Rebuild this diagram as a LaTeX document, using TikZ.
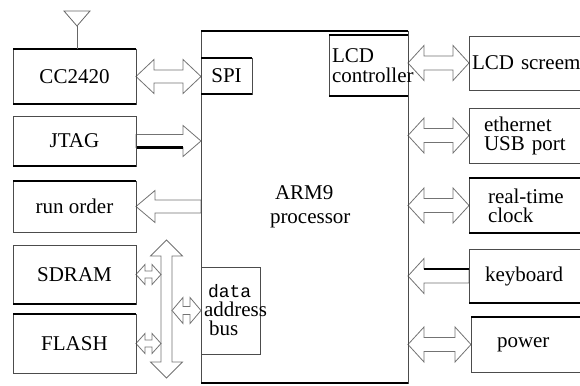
\documentclass[tikz,border=0pt]{standalone}
\usepackage{fontspec}
\setmainfont{Liberation Serif}
\setmonofont{Liberation Mono}
\usepackage{tikz}
\usetikzlibrary{positioning, calc, backgrounds}

% hollow block arrows: #1 and #2 are the two ends, #3 head length,
% #4 half width of the head, #5 half width of the shaft
\newcommand{\dblarrow}[5]{%
  \draw[blockarrow] let \p1=(#1), \p2=(#2), \n1={sign(\x2-\x1)} in
    (\x1,\y1) -- (\x1+\n1*#3,\y1+#4) -- (\x1+\n1*#3,\y1+#5) -- (\x2-\n1*#3,\y1+#5)
    -- (\x2-\n1*#3,\y1+#4) -- (\x2,\y1) -- (\x2-\n1*#3,\y1-#4) -- (\x2-\n1*#3,\y1-#5)
    -- (\x1+\n1*#3,\y1-#5) -- (\x1+\n1*#3,\y1-#4) -- cycle;}
% one head only, at #1
\newcommand{\onearrow}[5]{%
  \draw[blockarrow] let \p1=(#1), \p2=(#2), \n1={sign(\x2-\x1)} in
    (\x1,\y1) -- (\x1+\n1*#3,\y1+#4) -- (\x1+\n1*#3,\y1+#5) -- (\x2,\y1+#5)
    -- (\x2,\y1-#5) -- (\x1+\n1*#3,\y1-#5) -- (\x1+\n1*#3,\y1-#4) -- cycle;}
% vertical one, for the bus
\newcommand{\busarrow}[5]{%
  \draw[blockarrow] let \p1=(#1), \p2=(#2), \n1={sign(\y2-\y1)} in
    (\x1,\y1) -- (\x1+#4,\y1+\n1*#3) -- (\x1+#5,\y1+\n1*#3) -- (\x1+#5,\y2-\n1*#3)
    -- (\x1+#4,\y2-\n1*#3) -- (\x1,\y2) -- (\x1-#4,\y2-\n1*#3) -- (\x1-#5,\y2-\n1*#3)
    -- (\x1-#5,\y1+\n1*#3) -- (\x1-#4,\y1+\n1*#3) -- cycle;}

\begin{document}
\begin{tikzpicture}[
  x=1pt, y=-1pt,
  box/.style={draw=black!70, line width=0.8pt, rectangle, inner sep=0pt, outer sep=0pt, font=\fontsize{21}{19}\selectfont},
  lbox/.style={box, minimum width=123pt},
  rbox/.style={box, minimum width=126pt, align=left},
  heavy/.style={line width=2.6pt, black},
  blockarrow/.style={draw=black!55, line width=0.8pt, fill=white, line join=miter},
  antenna/.style={draw=black!60, line width=0.8pt}
]
\useasboundingbox (0,0) rectangle (580,385);
\clip (0,0) rectangle (580,385);

% left column
\node[lbox, minimum height=55pt, anchor=north west] (cc) at (13,49) {CC2420};
\node[lbox, minimum height=50pt, below=12pt of cc]    (jtag)  {JTAG};
\node[lbox, minimum height=51pt, below=15pt of jtag]  (run)   {run order};
\node[lbox, minimum height=59pt, below=13pt of run]   (sdram) {SDRAM};
\node[lbox, minimum height=59pt, below=10pt of sdram] (flash) {FLASH};

% processor and its parts
\node[box, minimum width=207pt, minimum height=352pt, anchor=north west, align=left,
      text width=69pt, font=\fontsize{21}{24}\selectfont] (arm) at (201,31) {\hspace*{5pt}ARM9\\processor};
\node[box, minimum width=51pt, minimum height=36pt, below right=27pt and 0pt of arm.north west] (spi) {SPI};
\node[box, minimum width=79pt, minimum height=61pt, align=left, inner xsep=3pt, text width=73pt,
      font=\fontsize{21}{20}\selectfont, below left=4pt and 0pt of arm.north east] (lcdc) {LCD\\controller};
\node[box, minimum width=59pt, minimum height=87pt, align=left, inner xsep=3pt, text width=53pt,
      above right=29pt and 0pt of arm.south west] (dab)
      {\hspace*{4pt}{\ttfamily\fontsize{18}{19}\selectfont data}\\address\\\hspace*{5pt}bus};

% right column
\node[rbox, minimum height=54pt, inner xsep=3pt, text width=120pt, anchor=north west] (lcd) at (469,36) {LCD screem};
\node[rbox, minimum height=55pt, inner xsep=15pt, text width=96pt, below=18pt of lcd] (eth) {ethernet\\USB port};
\node[rbox, minimum height=55pt, inner xsep=19pt, text width=88pt, below=15pt of eth] (rtc) {real-time\\clock};
\node[rbox, minimum height=54pt, inner xsep=16pt, text width=94pt, below=16pt of rtc] (kbd) {keyboard};
\node[rbox, minimum height=55pt, inner xsep=25pt, text width=74pt, below=14pt of kbd, xshift=2pt] (pwr) {power};

% heavy edges
\draw[line width=1.5pt] (arm.north west) -- (arm.north east);
\foreach \bx/\sd in {cc/north, cc/south, jtag/south, run/north, sdram/south, flash/north,
                     spi/north, spi/south, arm/south, lcdc/north, lcdc/south,
                     rtc/north, rtc/south, kbd/south, pwr/north}
  \draw[heavy] (\bx.\sd -| \bx.west) -- (\bx.\sd -| \bx.east);

% antenna
\coordinate (ant) at (77,26);
\draw[antenna] (ant) -- ++(-13,-15) -- ++(26,0) -- cycle;
\draw[antenna] (ant) -- (ant |- cc.north);

% bus
\coordinate (bustop) at (166.5,240);
\coordinate (busbot) at (166.5,378);
\coordinate (busl) at (161,0);
\coordinate (busr) at (172,0);

\begin{scope}[on background layer]
\dblarrow{cc.east}{spi.west}{18pt}{17pt}{6.5pt}
\onearrow{arm.west |- jtag.east}{jtag.east}{18pt}{15.5pt}{6.5pt}
\onearrow{run.east}{arm.west |- run.east}{19pt}{16pt}{6.5pt}
\dblarrow{arm.east |- lcd.west}{lcd.west}{16pt}{17.5pt}{7pt}
\dblarrow{arm.east |- eth.west}{eth.west}{16pt}{17.5pt}{7pt}
\dblarrow{arm.east |- rtc.west}{rtc.west}{16pt}{17.5pt}{7pt}
\onearrow{arm.east |- kbd.west}{kbd.west}{16pt}{17.5pt}{7pt}
\dblarrow{arm.east |- pwr.west}{pwr.west}{16pt}{17.5pt}{7pt}
\busarrow{bustop}{busbot}{16pt}{16pt}{5.5pt}
\dblarrow{sdram.east}{busl |- sdram.east}{9pt}{10pt}{3.5pt}
\dblarrow{flash.east}{busl |- flash.east}{9pt}{10pt}{3.5pt}
\dblarrow{busr |- dab.west}{dab.west}{11pt}{13pt}{4pt}
\draw[heavy, line width=2.2pt] ([yshift=-6.5pt]jtag.east) -- ([yshift=-6.5pt, xshift=-18pt]arm.west |- jtag.east);
\draw[heavy, line width=2.2pt] ([yshift=7pt]kbd.west) -- ([yshift=7pt, xshift=16pt]arm.east |- kbd.west);
\end{scope}
\end{tikzpicture}
\end{document}
